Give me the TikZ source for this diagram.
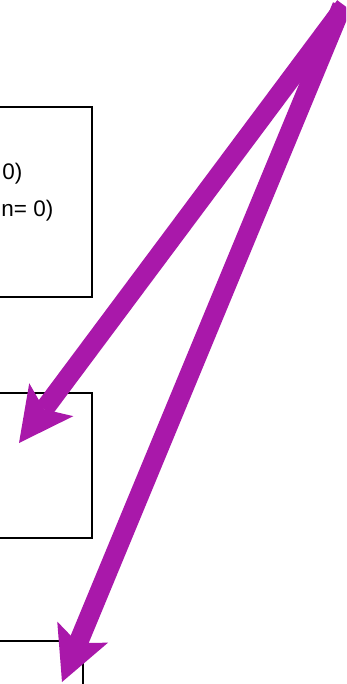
\documentclass[tikz,border=0pt]{standalone}
\usepackage{fontspec}
\setmainfont{Liberation Sans}
\usetikzlibrary{arrows.meta}
\definecolor{arrowpurple}{RGB}{169,24,170}
\tikzset{
  box/.style={draw=black, line width=2.8pt, rectangle, inner sep=0pt},
  lbl/.style={inner sep=0pt, font=\fontsize{22.5}{26}\selectfont, text=black},
  parrow/.style={line width=19.5pt, draw=arrowpurple,
    -{Stealth[length=54pt,width=55pt,inset=12pt,line width=0pt]}}
}
\begin{document}
\begin{tikzpicture}[x=1pt,y=-1pt]
\useasboundingbox (0,0) rectangle (346,684);
\clip (0,0) rectangle (346,684);
\fill[white] (0,0) rectangle (346,684);
% boxes (cut off by the picture's edges)
\node[box, minimum width=152pt, minimum height=190pt] (box1) at (16,202) {};
\node[box, minimum width=152pt, minimum height=145pt] (box2) at (16,465.5) {};
\node[box, minimum width=143pt, minimum height=119pt] (box3) at (11.5,700.5) {};
% texts
\node[lbl, anchor=base east] (t1) at (22.5,179.5) {0)};
\node[lbl, anchor=base east] (t2) at (53.5,217) {n= 0)};
% arrows
\coordinate (src1) at (345,6);
\coordinate (src2) at (342,6);
\coordinate (tip1) at (19,443);
\coordinate (tip2) at (62,682);
\draw[parrow] (src1) -- (tip1);
\draw[parrow] (src2) -- (tip2);
\end{tikzpicture}
\end{document}
